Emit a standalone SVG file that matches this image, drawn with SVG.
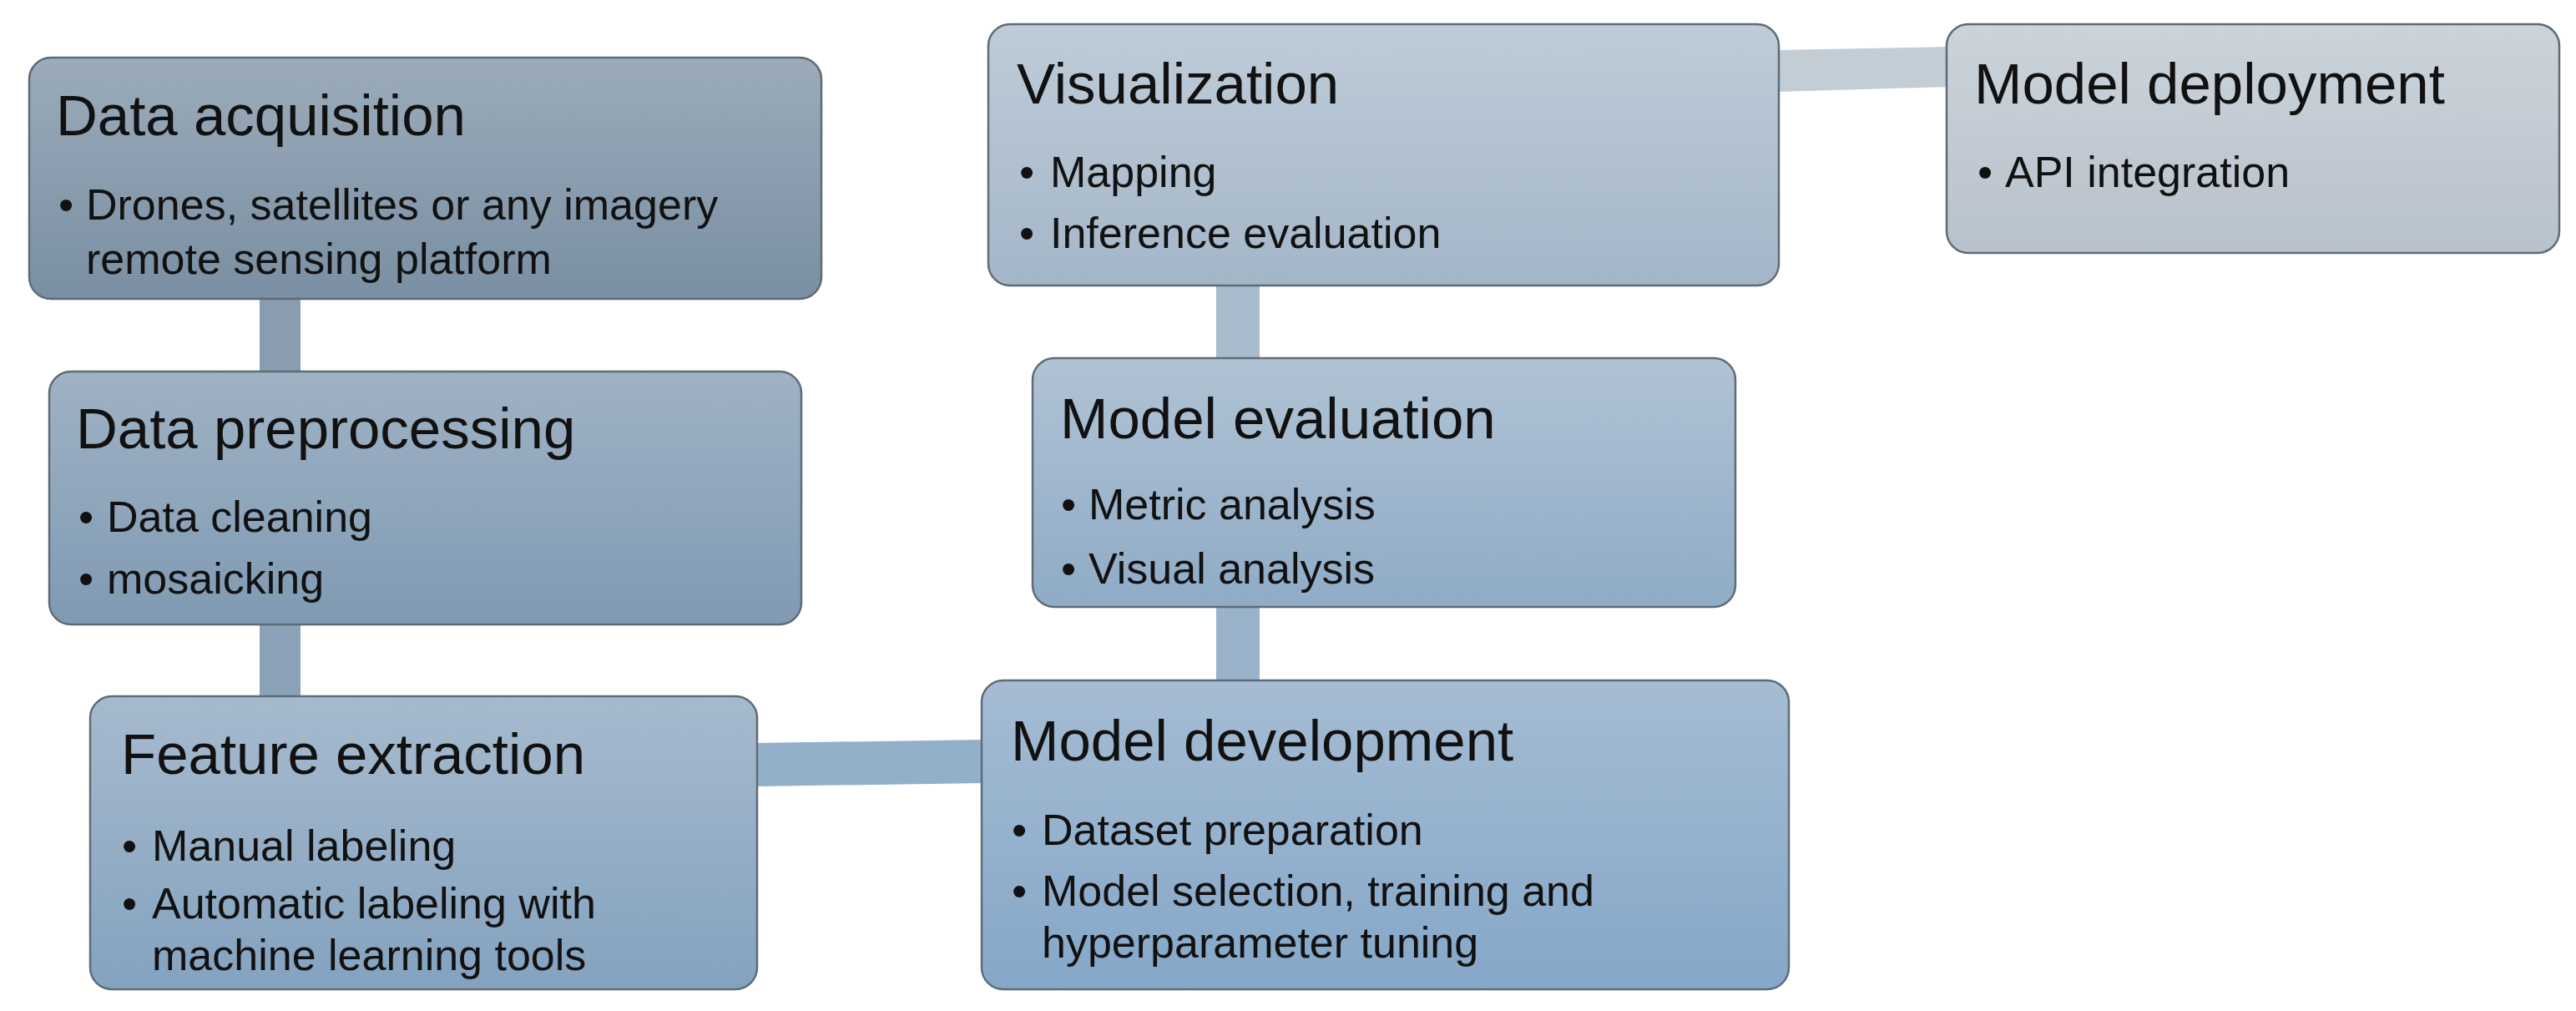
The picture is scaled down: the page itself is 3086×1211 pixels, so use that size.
<svg xmlns="http://www.w3.org/2000/svg" width="3086" height="1211" viewBox="0 0 3086 1211">
<style>
.box{stroke:#5f6b77;stroke-width:2.5}
.t{font-family:"Liberation Sans",Arial,sans-serif;fill:#111}
.h{font-size:69px}
.b{font-size:52px}
</style>
<defs>
<linearGradient id="g1" x1="0" y1="0" x2="0" y2="1"><stop offset="0" stop-color="#9babba"/><stop offset="1" stop-color="#7a8fa3"/></linearGradient>
<linearGradient id="g2" x1="0" y1="0" x2="0" y2="1"><stop offset="0" stop-color="#a0b2c4"/><stop offset="1" stop-color="#7f9ab3"/></linearGradient>
<linearGradient id="g3" x1="0" y1="0" x2="0" y2="1"><stop offset="0" stop-color="#a6bacd"/><stop offset="1" stop-color="#84a2bf"/></linearGradient>
<linearGradient id="g4" x1="0" y1="0" x2="0" y2="1"><stop offset="0" stop-color="#a5bcd3"/><stop offset="1" stop-color="#85a7c8"/></linearGradient>
<linearGradient id="g5" x1="0" y1="0" x2="0" y2="1"><stop offset="0" stop-color="#b0c3d4"/><stop offset="1" stop-color="#8fabc6"/></linearGradient>
<linearGradient id="g6" x1="0" y1="0" x2="0" y2="1"><stop offset="0" stop-color="#bfccd8"/><stop offset="1" stop-color="#a3b6c8"/></linearGradient>
<linearGradient id="g7" x1="0" y1="0" x2="0" y2="1"><stop offset="0" stop-color="#ccd3da"/><stop offset="1" stop-color="#b8c2cc"/></linearGradient>
</defs>
<rect width="3086" height="1211" fill="#fff"/>
<g id="connectors">
<rect x="311" y="355" width="49" height="94" fill="#8a9db0"/>
<rect x="311" y="745" width="49" height="93" fill="#8aa1b7"/>
<polygon points="905,890 1180,886 1180,938 905,942" fill="#93b0cb"/>
<rect x="1457" y="723" width="52" height="96" fill="#9ab3ca"/>
<rect x="1457" y="339" width="52" height="94" fill="#a9bccd"/>
<polygon points="2128,60 2335,56 2335,104 2128,110" fill="#c3cdd6"/>
</g>
<g id="data-acquisition">
<rect class="box" x="35" y="69" width="949" height="289" rx="26" fill="url(#g1)"/>
<text class="t h" x="67" y="162">Data acquisition</text>
<text class="t b" x="70" y="263">•</text>
<text class="t b" x="103" y="263">Drones, satellites or any imagery</text>
<text class="t b" x="103" y="328">remote sensing platform</text>
</g>
<g id="data-preprocessing">
<rect class="box" x="59" y="445" width="901" height="303" rx="26" fill="url(#g2)"/>
<text class="t h" x="91" y="537">Data preprocessing</text>
<text class="t b" x="94" y="637">•</text>
<text class="t b" x="128" y="637">Data cleaning</text>
<text class="t b" x="94" y="711">•</text>
<text class="t b" x="128" y="711">mosaicking</text>
</g>
<g id="feature-extraction">
<rect class="box" x="108" y="834" width="799" height="351" rx="26" fill="url(#g3)"/>
<text class="t h" x="145" y="927">Feature extraction</text>
<text class="t b" x="146" y="1031">•</text>
<text class="t b" x="182" y="1031">Manual labeling</text>
<text class="t b" x="146" y="1100">•</text>
<text class="t b" x="182" y="1100">Automatic labeling with</text>
<text class="t b" x="182" y="1162">machine learning tools</text>
</g>
<g id="model-development">
<rect class="box" x="1176" y="815" width="967" height="370" rx="26" fill="url(#g4)"/>
<text class="t h" x="1211" y="911">Model development</text>
<text class="t b" x="1212" y="1012">•</text>
<text class="t b" x="1248" y="1012">Dataset preparation</text>
<text class="t b" x="1212" y="1085">•</text>
<text class="t b" x="1248" y="1085">Model selection, training and</text>
<text class="t b" x="1248" y="1147">hyperparameter tuning</text>
</g>
<g id="model-evaluation">
<rect class="box" x="1237" y="429" width="842" height="298" rx="26" fill="url(#g5)"/>
<text class="t h" x="1270" y="525">Model evaluation</text>
<text class="t b" x="1271" y="622">•</text>
<text class="t b" x="1304" y="622">Metric analysis</text>
<text class="t b" x="1271" y="699">•</text>
<text class="t b" x="1304" y="699">Visual analysis</text>
</g>
<g id="visualization">
<rect class="box" x="1184" y="29" width="947" height="313" rx="26" fill="url(#g6)"/>
<text class="t h" x="1218" y="124">Visualization</text>
<text class="t b" x="1221" y="224">•</text>
<text class="t b" x="1258" y="224">Mapping</text>
<text class="t b" x="1221" y="297">•</text>
<text class="t b" x="1258" y="297">Inference evaluation</text>
</g>
<g id="model-deployment">
<rect class="box" x="2332" y="29" width="734" height="274" rx="26" fill="url(#g7)"/>
<text class="t h" x="2365" y="124">Model deployment</text>
<text class="t b" x="2369" y="224">•</text>
<text class="t b" x="2402" y="224">API integration</text>
</g>
</svg>
